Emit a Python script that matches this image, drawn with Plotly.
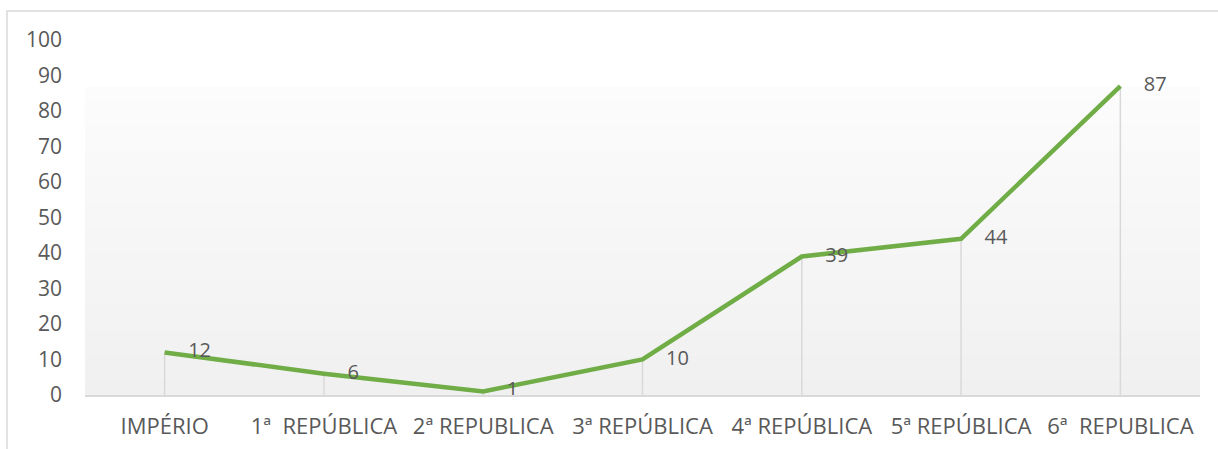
import base64, struct, zlib
import plotly.graph_objects as go

categories = ["IMPÉRIO", "1ª\u00a0 REPÚBLICA", "2ª REPUBLICA", "3ª REPÚBLICA",
              "4ª REPÚBLICA", "5ª REPÚBLICA", "6ª\u00a0 REPUBLICA"]
values = [12, 6, 1, 10, 39, 44, 87]
y_ticks = [0, 10, 20, 30, 40, 50, 60, 70, 80, 90, 100]

GREEN = "#70ad47"
GRAY_TXT = "#595959"
GRID = "#d9d9d9"
FONT = "Open Sans"


def png_gradient(top, bottom, h=256):
    rows = []
    for i in range(h):
        t = i / (h - 1)
        c = bytes(int(round(top[k] + (bottom[k] - top[k]) * t)) for k in range(3))
        rows.append(b"\x00" + c)
    raw = b"".join(rows)

    def chunk(tag, data):
        return (struct.pack(">I", len(data)) + tag + data +
                struct.pack(">I", zlib.crc32(tag + data) & 0xffffffff))

    png = (b"\x89PNG\r\n\x1a\n" +
           chunk(b"IHDR", struct.pack(">IIBBBBB", 1, h, 8, 2, 0, 0, 0)) +
           chunk(b"IDAT", zlib.compress(raw)) + chunk(b"IEND", b""))
    return "data:image/png;base64," + base64.b64encode(png).decode()


fig = go.Figure()
fig.add_trace(go.Scatter(
    x=categories, y=values, mode="lines+markers+text",
    line=dict(color=GREEN, width=4.5),
    marker=dict(size=36, color="rgba(0,0,0,0)"),
    text=[str(v) for v in values], textposition="middle right",
    textfont=dict(family=FONT, size=20, color=GRAY_TXT),
    error_y=dict(type="data", symmetric=False, array=[0] * len(values),
                 arrayminus=values, color=GRID, thickness=1.5, width=0),
    cliponaxis=False, hoverinfo="skip", showlegend=False,
))

grad_top = 0.8676
fig.add_layout_image(dict(
    source=png_gradient((252, 252, 252), (240, 240, 240)),
    xref="paper", yref="paper", x=0, y=grad_top, sizex=1, sizey=grad_top,
    xanchor="left", yanchor="top", sizing="stretch", layer="below",
))

fig.add_shape(type="rect", xref="paper", yref="paper",
              x0=-0.07, y0=-0.3, x1=1.05, y1=1.0817,
              line=dict(color=GRID, width=1.5), fillcolor="rgba(0,0,0,0)",
              layer="below")

fig.update_layout(
    width=1218, height=449,
    margin=dict(l=85, r=18, t=40, b=54),
    paper_bgcolor="white", plot_bgcolor="white",
    font=dict(family=FONT, color=GRAY_TXT),
    xaxis=dict(range=[-0.5, len(categories) - 0.5], showgrid=False,
               showline=True, linecolor=GRID, linewidth=1.5,
               ticks="", ticklabelstandoff=11, automargin=False,
               tickfont=dict(family=FONT, size=22, color=GRAY_TXT),
               zeroline=False, fixedrange=True),
    yaxis=dict(range=[0, 100], tickvals=y_ticks, showgrid=False,
               showline=False, zeroline=False, ticks="",
               ticklabelstandoff=22, automargin=False,
               tickfont=dict(family=FONT, size=21, color=GRAY_TXT),
               fixedrange=True),
)

fig.write_html("out.html", config={"displayModeBar": False},
               post_script="document.body.style.margin='0';document.body.style.overflow='hidden';")
